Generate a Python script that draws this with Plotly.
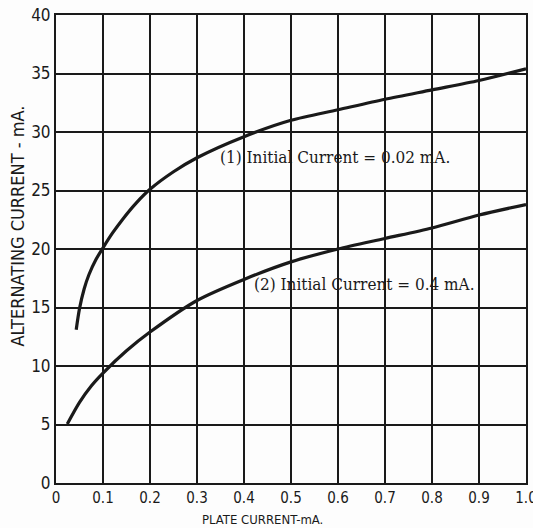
import plotly.graph_objects as go

# Curve (1): initial current 0.02 mA
c1_x = [0.043, 0.05, 0.06, 0.07, 0.085, 0.1, 0.12, 0.142, 0.17, 0.2, 0.25, 0.3, 0.4, 0.5, 0.6, 0.7, 0.8, 0.9, 1.0]
c1_y = [13.1, 14.9, 16.6, 17.8, 19.1, 20.1, 21.35, 22.55, 23.9, 25.1, 26.6, 27.8, 29.6, 31.0, 31.9, 32.8, 33.6, 34.4, 35.4]

# Curve (2): initial current 0.4 mA
c2_x = [0.024, 0.05, 0.075, 0.1, 0.15, 0.2, 0.3, 0.4, 0.5, 0.6, 0.7, 0.8, 0.9, 1.0]
c2_y = [5.05, 6.9, 8.3, 9.4, 11.3, 12.9, 15.6, 17.4, 18.9, 20.0, 20.9, 21.8, 22.9, 23.8]

x_ticks = [0, 0.1, 0.2, 0.3, 0.4, 0.5, 0.6, 0.7, 0.8, 0.9, 1.0]
x_tick_labels = ["0", "0.1", "0.2", "0.3", "0.4", "0.5", "0.6", "0.7", "0.8", "0.9", "1.0"]
y_ticks = [0, 5, 10, 15, 20, 25, 30, 35, 40]
y_tick_labels = ["0", "5", "10", "15", "20", "25", "30", "35", "40"]

label1 = "(1) Initial Current = 0.02 mA."
label2 = "(2) Initial Current = 0.4 mA."

INK = "#1a1a1a"
TICKFONT = "DejaVu Sans Condensed, Liberation Sans Narrow, Arial, sans-serif"
SERIF = "DejaVu Serif Condensed, DejaVu Serif, serif"

fig = go.Figure()
for xs, ys in [(c1_x, c1_y), (c2_x, c2_y)]:
    fig.add_trace(go.Scatter(x=xs, y=ys, mode="lines",
                             line=dict(color=INK, width=3.2, shape="spline", smoothing=0.8),
                             showlegend=False, hoverinfo="skip"))

fig.add_annotation(x=0.594, y=27.9, text=label1, showarrow=False,
                   font=dict(family=SERIF, size=17, color=INK))
fig.add_annotation(x=0.657, y=17.0, text=label2, showarrow=False,
                   font=dict(family=SERIF, size=17, color=INK))

fig.add_annotation(xref="paper", yref="paper", x=-0.081, y=0.55, xanchor="center", yanchor="middle",
                   text="ALTERNATING CURRENT - mA.", textangle=-90, showarrow=False,
                   font=dict(family=TICKFONT, size=18, color=INK))
fig.add_annotation(xref="paper", yref="paper", x=0.44, y=-0.077, yanchor="middle",
                   text="PLATE CURRENT-mA.", showarrow=False,
                   font=dict(family=TICKFONT, size=13, color=INK))

fig.update_xaxes(range=[0, 1.0], tickmode="array", tickvals=x_ticks, ticktext=x_tick_labels,
                 showgrid=True, gridcolor=INK, gridwidth=1.5, zeroline=False,
                 showline=True, linecolor=INK, linewidth=2, mirror=True, ticks="",
                 automargin=False, ticklabeloverflow="allow",
                 tickfont=dict(family=TICKFONT, size=15, color=INK))
fig.update_yaxes(range=[0, 40], tickmode="array", tickvals=y_ticks, ticktext=y_tick_labels,
                 showgrid=True, gridcolor=INK, gridwidth=1.5, zeroline=False,
                 showline=True, linecolor=INK, linewidth=2, mirror=True, ticks="",
                 automargin=False, ticklabeloverflow="allow",
                 tickfont=dict(family=TICKFONT, size=17, color=INK))

fig.update_layout(width=533, height=528, margin=dict(l=56, r=7, t=15, b=45),
                  paper_bgcolor="#fdfdfd", plot_bgcolor="#fdfdfd")

fig.write_html("out.html", config={"displayModeBar": False},
               post_script="document.body.style.margin='0';document.body.style.overflow='hidden';")
